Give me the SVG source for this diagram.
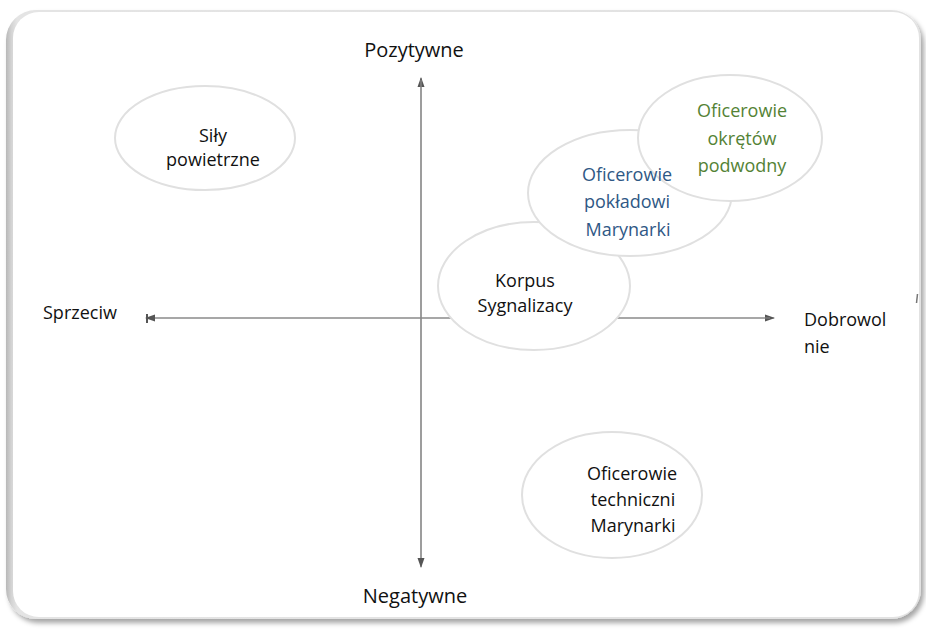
<svg xmlns="http://www.w3.org/2000/svg" width="926" height="630" viewBox="0 0 926 630">
<defs>
<style>
.t{font-family:"Open Sans","Noto Sans",sans-serif;font-size:18px;fill:#111;text-anchor:middle}
.lbl{font-family:"Open Sans","Noto Sans",sans-serif;fill:#111}
.node{fill:#fff;stroke:#e0e0e0;stroke-width:2}
.axis{stroke:#8a8a8a;stroke-width:1.2;fill:none}
.blue{fill:#2f5885}
.green{fill:#548235}
</style>
<filter id="fs" x="-5%" y="-5%" width="110%" height="110%">
<feDropShadow dx="3" dy="4" stdDeviation="2.5" flood-color="#000" flood-opacity="0.35"/>
</filter>
<linearGradient id="lg" x1="0" y1="0" x2="1" y2="0">
<stop offset="0" stop-color="#b8b8b8"/>
<stop offset="0.006" stop-color="#d4d4d4"/>
<stop offset="0.012" stop-color="#e4e4e4"/>
<stop offset="1" stop-color="#e2e2e2"/>
</linearGradient>
<marker id="ah" viewBox="0 0 10 10" refX="9" refY="5" markerWidth="10" markerHeight="10" markerUnits="userSpaceOnUse" orient="auto-start-reverse">
<path d="M0,1.5 L10,5 L0,8.5 Z" fill="#555"/>
</marker>
<clipPath id="cp"><rect x="520" y="150" width="152" height="110"/></clipPath>
</defs>
<rect width="926" height="630" fill="#fff"/>
<g id="frame">
<rect x="6" y="10" width="915" height="609" rx="30" fill="url(#lg)" filter="url(#fs)"/>
<rect x="13" y="12" width="906" height="605" rx="26" fill="#fff"/>
</g>
<g id="connectors">
<line class="axis" x1="421" y1="560" x2="421" y2="78" marker-end="url(#ah)"/>
<line class="axis" x1="421" y1="80" x2="421" y2="567" marker-end="url(#ah)"/>
<line class="axis" x1="150" y1="318" x2="774" y2="318" marker-end="url(#ah)"/>
<line class="axis" x1="770" y1="318" x2="146" y2="318" marker-end="url(#ah)"/>
<line x1="147" y1="314" x2="147" y2="323" stroke="#555" stroke-width="2"/>
</g>
<g id="axis-labels">
<text class="lbl" x="414" y="57" font-size="20" text-anchor="middle">Pozytywne</text>
<text class="lbl" x="415" y="603" font-size="20" text-anchor="middle">Negatywne</text>
<text class="lbl" x="43" y="319" font-size="18">Sprzeciw</text>
<text class="lbl" x="804" y="326" font-size="18">Dobrowol</text>
<text class="lbl" x="804" y="353" font-size="18">nie</text>
<line x1="917.5" y1="294" x2="916.5" y2="303" stroke="#777" stroke-width="1.5"/>
</g>
<g id="sily">
<ellipse class="node" cx="205" cy="138" rx="90" ry="52"/>
<text class="t" x="213" y="142">Siły</text>
<text class="t" x="213" y="166">powietrzne</text>
</g>
<g id="korpus">
<ellipse class="node" cx="534" cy="286" rx="96" ry="64"/>
<text class="t" x="525" y="287">Korpus</text>
<text class="t" x="525" y="312">Sygnalizacy</text>
</g>
<g id="poklad">
<ellipse class="node" cx="630" cy="193" rx="102" ry="63"/>
</g>
<g id="okret">
<ellipse class="node" cx="730" cy="138" rx="92" ry="63"/>
</g>
<g id="poklad-text" clip-path="url(#cp)">
<text class="t blue" x="627" y="181">Oficerowie</text>
<text class="t blue" x="627" y="208">pokładowi</text>
<text class="t blue" x="628" y="236">Marynarki</text>
</g>
<g id="okret-text">
<text class="t green" x="742" y="117">Oficerowie</text>
<text class="t green" x="742" y="145">okrętów</text>
<text class="t green" x="742" y="172">podwodny</text>
</g>
<g id="techniczni">
<ellipse class="node" cx="612" cy="495" rx="90" ry="63"/>
<text class="t" x="632" y="480">Oficerowie</text>
<text class="t" x="633" y="506">techniczni</text>
<text class="t" x="633" y="532">Marynarki</text>
</g>
</svg>
